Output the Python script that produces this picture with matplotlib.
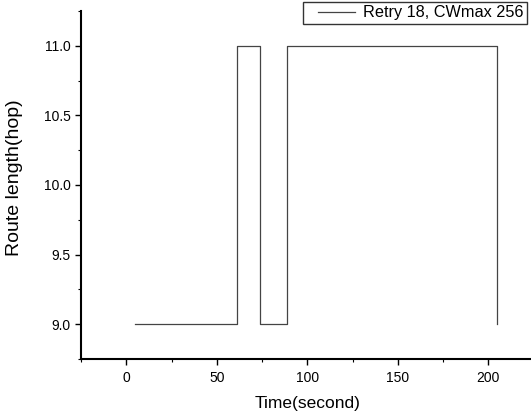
import matplotlib
matplotlib.use("Agg")
import matplotlib.pyplot as plt
from matplotlib.ticker import MultipleLocator
from matplotlib.legend_handler import HandlerLine2D
from matplotlib.lines import Line2D

plt.rcParams['font.family'] = ['Liberation Sans', 'DejaVu Sans']

time_s = [5, 61, 61, 74, 74, 89, 89, 205, 205]
route_len = [9.0, 9.0, 11.0, 11.0, 9.0, 9.0, 11.0, 11.0, 9.0]
series_label = "Retry 18, CWmax 256"
x_ticks = [0, 50, 100, 150, 200]
y_ticks = [9.0, 9.5, 10.0, 10.5, 11.0]

fig = plt.figure(figsize=(5.31, 4.16), dpi=100)
ax = fig.add_axes([81/531, 57/416, 452.5/531, 348/416])
line, = ax.plot(time_s, route_len, color='#444444', lw=0.9, label=series_label)

ax.set_xlim(-25, 225)
ax.set_ylim(8.75, 11.25)
ax.set_xticks(x_ticks)
ax.set_yticks(y_ticks)
ax.set_yticklabels([f"{v:.1f}" for v in y_ticks])
ax.xaxis.set_minor_locator(MultipleLocator(25))
ax.yaxis.set_minor_locator(MultipleLocator(0.25))
ax.tick_params(which='major', direction='out', length=4, width=1, labelsize=10)
ax.tick_params(which='minor', direction='out', length=2.5, width=0.8)
ax.tick_params(axis='x', which='major', pad=5)

for s in ['top', 'right']:
    ax.spines[s].set_visible(False)
for s in ['left', 'bottom']:
    ax.spines[s].set_linewidth(1.5)

ax.set_xlabel("Time(second)", fontsize=12.5)
ax.set_ylabel("Route length(hop)", fontsize=14)
ax.xaxis.set_label_coords(0.5, -0.129)
ax.yaxis.set_label_coords(-0.146, 0.52)
ax.xaxis.label.set_va('center')
ax.yaxis.label.set_va('center')

leg = fig.legend(handles=[line], labels=[series_label],
                 loc='upper left', bbox_to_anchor=(303/531, 1 - 2/416),
                 fontsize=11.7, frameon=True, fancybox=False, edgecolor='black',
                 handlelength=3.0, handletextpad=0.5, borderpad=0.2,
                 borderaxespad=0,
                 handler_map={Line2D: HandlerLine2D(xpad=0.74)})
leg.get_frame().set_linewidth(1.0)

fig.savefig("out.png", dpi=100)
